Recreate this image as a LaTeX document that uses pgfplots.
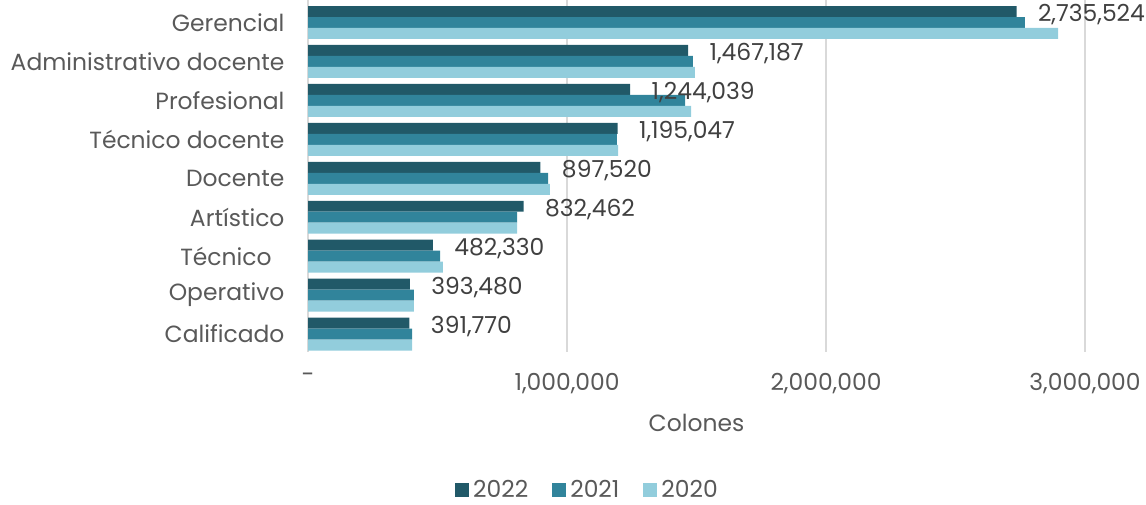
\documentclass[border=0pt]{standalone}
\usepackage{pgfplots}
\pgfplotsset{compat=1.18}
\usepackage{fontspec}
\setmainfont{Poppins}
\definecolor{c22}{HTML}{215968}
\definecolor{c21}{HTML}{31849B}
\definecolor{c20}{HTML}{92CDDC}
\definecolor{gridc}{HTML}{D9D9D9}
\definecolor{txt}{HTML}{595959}
\definecolor{lbl}{HTML}{404040}
\newcommand{\cf}{\fontsize{23.5}{28}\selectfont}
\begin{document}
\begin{tikzpicture}[x=1bp,y=1bp]
\path[use as bounding box] (0,0) rectangle (1146,505);
\begin{axis}[at={(308bp,153bp)}, anchor=south west, scale only axis,
  width=777bp, height=352bp,
  xmin=0, xmax=3000000, ymin=-0.46, ymax=8.578,
  scaled x ticks=false,
  xtick={0,1000000,2000000,3000000},
  xticklabels={{-},{1,000,000},{2,000,000},{3,000,000}},
  ytick={0,1,2,3,4,5,6,7,8},
  yticklabels={Calificado,Operativo,{Técnico\hspace*{0.55em}},Artístico,Docente,Técnico docente,Profesional,Administrativo docente,Gerencial},
  xmajorgrids, grid style={draw=gridc, line width=1.5bp},
  axis line style={draw=none}, major tick length=0pt,
  tick label style={font=\cf, text=txt},
  xticklabel style={yshift=-18bp},
  yticklabel style={xshift=-20bp},
  xlabel={Colones},
  every axis x label/.style={at={(axis description cs:0.5,0)}, anchor=center, yshift=-71bp, font=\cf, text=txt},
  xbar, bar width=0.282,
  legend style={at={(0.361,-0.392)}, anchor=center, legend columns=3, draw=none, font=\cf, text=txt,
    nodes={inner xsep=4bp, inner ysep=1bp},
    /tikz/every even column/.append style={column sep=20bp}},
  legend image code/.code={\fill[#1] (0bp,-7bp) rectangle (14bp,7bp);},
]
\addplot[fill=c22, draw=none, bar shift=0.282, nodes near coords, point meta=explicit symbolic,
  nodes near coords style={anchor=west, font=\cf, text=lbl, xshift=18bp, yshift=-3bp}]
  table[x=x, y=y, meta=l] {
x y l
2735524 8 2,735,524
1467187 7 1,467,187
1244039 6 1,244,039
1195047 5 1,195,047
897520 4 897,520
832462 3 832,462
482330 2 482,330
393480 1 393,480
391770 0 391,770
};
\addlegendentry{2022}
\addplot[fill=c21, draw=none, bar shift=0] coordinates {
(2768000,8) (1486000,7) (1456000,6) (1193000,5) (927000,4) (807000,3) (510000,2) (409000,1) (402000,0)};
\addlegendentry{2021}
\addplot[fill=c20, draw=none, bar shift=-0.282] coordinates {
(2896000,8) (1494000,7) (1479000,6) (1197000,5) (934000,4) (807000,3) (521000,2) (409000,1) (402000,0)};
\addlegendentry{2020}
\end{axis}
\end{tikzpicture}
\end{document}
